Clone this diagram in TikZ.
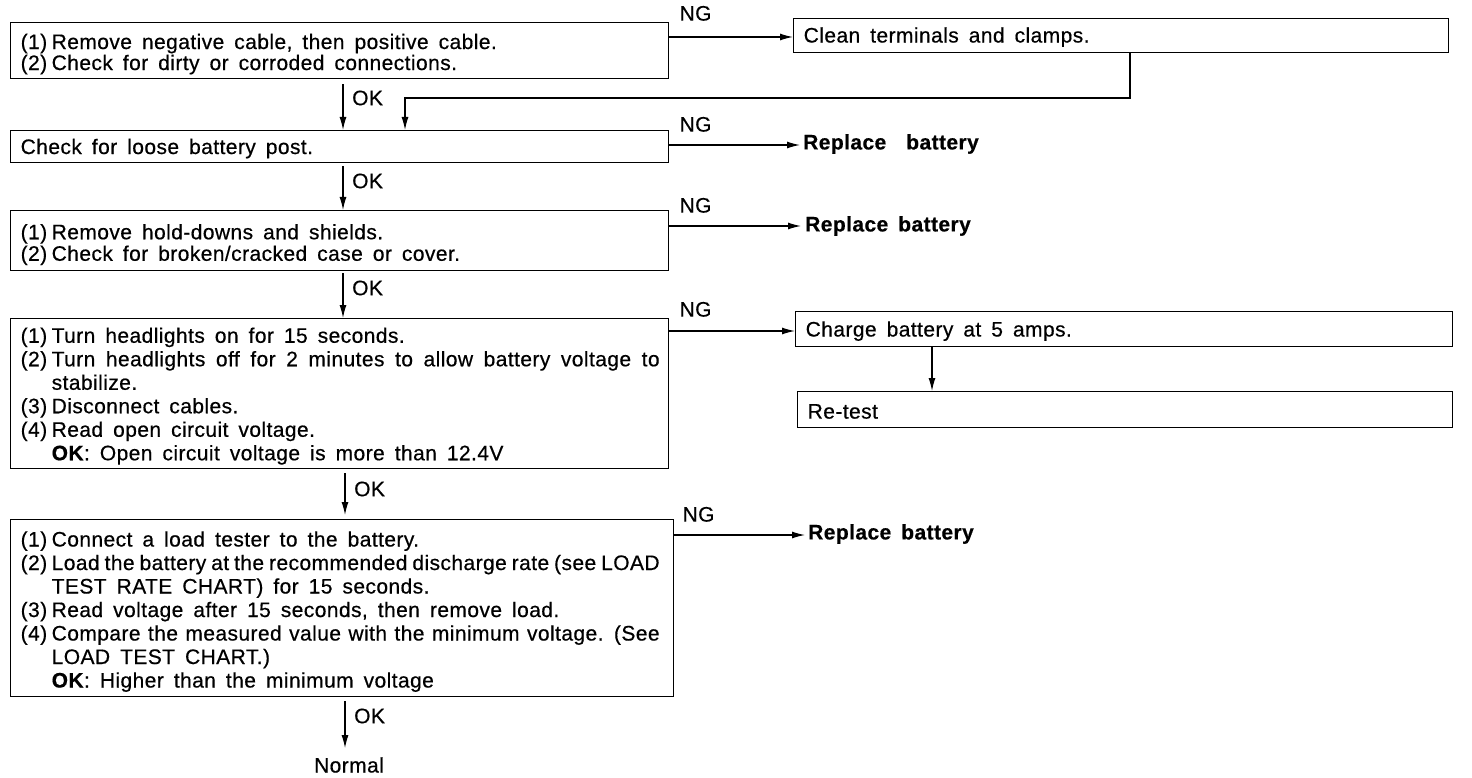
\documentclass[tikz,border=0pt]{standalone}
\usepackage{fontspec}
\setmainfont[LetterSpace=2,FakeBold=0.5]{Liberation Sans}
\usetikzlibrary{arrows.meta,calc}
\newcommand{\itm}[1]{\makebox[31pt][l]{#1}}
\newcommand{\ind}{\hspace*{31pt}}
\newcommand{\fl}{\rule{0pt}{22pt}}
\newcommand{\sk}{\spaceskip=10pt plus 2pt minus 2pt\relax}
\newcommand{\tl}[1]{\mbox{\sk #1}}
\newcommand{\jl}[1]{\hbox to 608pt{\spaceskip=3pt plus 40pt minus 1pt\relax #1}}
\begin{document}
\begin{tikzpicture}[x=1pt,y=-1pt,
  font=\fontsize{21}{23.5}\selectfont,
  box/.style={draw, line width=1.4pt, anchor=north west, inner xsep=10pt, inner ysep=0pt, align=left},
  arr/.style={line width=1.2pt, -{Latex[length=13pt,width=7pt]}},
  lbl/.style={inner sep=0pt},
  res/.style={inner sep=0pt, anchor=west, font=\fontsize{21}{22}\selectfont\bfseries}]
\useasboundingbox (0,0) rectangle (1472,778);
% boxes
\node[box, minimum width=658pt, minimum height=56pt, text width=638pt,
  font=\fontsize{21}{21}\selectfont] (b1) at (10,22)
 {\tl{\fl\itm{(1)}Remove negative cable, then positive cable.}\\ \tl{\itm{(2)}Check for dirty or corroded connections.}};
\node[box, minimum width=655pt, minimum height=34pt, text width=635pt] (clean) at (793,18)
 {\tl{\rule{0pt}{18pt}Clean terminals and clamps.}};
\node[box, minimum width=658pt, minimum height=32pt, text width=638pt] (b2) at (10,130)
 {\tl{\rule{0pt}{19pt}Check for loose battery post.}};
\node[box, minimum width=658pt, minimum height=60pt, text width=638pt,
  font=\fontsize{21}{21.5}\selectfont] (b3) at (10,210)
 {\tl{\rule{0pt}{23pt}\itm{(1)}Remove hold-downs and shields.}\\ \tl{\itm{(2)}Check for broken/cracked case or cover.}};
\node[box, minimum width=658pt, minimum height=150pt, text width=638pt] (b4) at (10,318)
 {\tl{\rule{0pt}{20pt}\itm{(1)}Turn headlights on for 15 seconds.}\\
  \tl{\itm{(2)}\jl{Turn headlights off for 2 minutes to allow battery voltage to}}\\
  \tl{\ind stabilize.}\\
  \tl{\itm{(3)}Disconnect cables.}\\
  \tl{\itm{(4)}Read open circuit voltage.}\\
  \tl{\ind\textbf{OK}: Open circuit voltage is more than 12.4V}};
\node[box, minimum width=657pt, minimum height=35pt, text width=637pt] (charge) at (795,311)
 {\tl{\rule{0pt}{19pt}Charge battery at 5 amps.}};
\node[box, minimum width=655pt, minimum height=36pt, text width=635pt] (retest) at (797,391)
 {\tl{\rule{0pt}{18pt}Re-test}};
\node[box, minimum width=663pt, minimum height=177pt, text width=643pt] (b5) at (10,519)
 {\tl{\fl\itm{(1)}Connect a load tester to the battery.}\\
  \tl{\itm{(2)}\jl{Load the battery at the recommended discharge rate (see LOAD}}\\
  \tl{\ind TEST RATE CHART) for 15 seconds.}\\
  \tl{\itm{(3)}Read voltage after 15 seconds, then remove load.}\\
  \tl{\itm{(4)}\jl{Compare the measured value with the minimum voltage. (See}}\\
  \tl{\ind LOAD TEST CHART.)}\\
  \tl{\ind\textbf{OK}: Higher than the minimum voltage}};
% results
\node[res] (r2) at (803,144) {Replace\hspace{20pt}battery};
\node[res] (r3) at (805,226) {\tl{Replace battery}};
\node[res] (r5) at (808,534) {\tl{Replace battery}};
\node[lbl] (normal) at (349,765) {Normal};
% NG connectors
\coordinate (n1) at ($(b1.north east)+(0,15)$);
\coordinate (n2) at ($(b2.north east)+(0,15)$);
\coordinate (n3) at ($(b3.north east)+(0,16)$);
\coordinate (n4) at ($(b4.north east)+(0,13)$);
\coordinate (n5) at ($(b5.north east)+(0,16)$);
\draw[arr] (n1) -- (clean.west |- n1);
\draw[arr] (n2) -- ($(r2.west |- n2)+(-3,0)$);
\draw[arr] (n3) -- ($(r3.west |- n3)+(-4,0)$);
\draw[arr] (n4) -- (charge.west |- n4);
\draw[arr] (n5) -- ($(r5.west |- n5)+(-3,0)$);
\node[lbl, anchor=south west] (ng1) at ($(b1.north east)+(10,-1)$) {NG};
\node[lbl, anchor=south west] (ng2) at ($(b2.north east)+(10,2)$) {NG};
\node[lbl, anchor=south west] (ng3) at ($(b3.north east)+(10,3)$) {NG};
\node[lbl, anchor=south west] (ng4) at ($(b4.north east)+(10,-1)$) {NG};
\node[lbl, anchor=south west] (ng5) at ($(b5.north east)+(8,3)$) {NG};
% OK connectors
\coordinate (k1) at (343,0);
\coordinate (k4) at (345,0);
\draw[arr, shorten <=5pt] (b1.south -| k1) -- (b2.north -| k1);
\draw[arr, shorten <=3pt] (b2.south -| k1) -- (b3.north -| k1);
\draw[arr, shorten <=2pt] (b3.south -| k1) -- (b4.north -| k1);
\draw[arr, shorten <=4pt] (b4.south -| k4) -- ($(b5.north -| k4)+(0,-4)$);
\draw[arr, shorten <=4pt] (b5.south -| k4) -- ($(normal.north -| k4)+(0,-9)$);
\node[lbl, anchor=west] (ok1) at (352,98) {OK};
\node[lbl, anchor=west] (ok2) at (352,181) {OK};
\node[lbl, anchor=west] (ok3) at (352,288) {OK};
\node[lbl, anchor=west] (ok4) at (354,489) {OK};
\node[lbl, anchor=west] (ok5) at (354,716) {OK};
% return from clean
\coordinate (t1) at (1130,98);
\coordinate (t2) at (405,98);
\draw[arr] (clean.south -| t1) -- (t1) -- (t2) -- (b2.north -| t2);
% charge to retest
\coordinate (c1) at (932,0);
\draw[arr] (charge.south -| c1) -- (retest.north -| c1);
\end{tikzpicture}
\end{document}
